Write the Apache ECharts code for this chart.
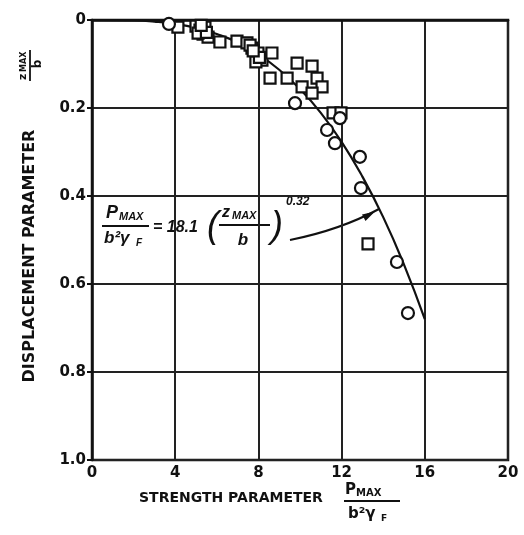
<!DOCTYPE html>
<html><head><meta charset="utf-8">
<script src="https://cdn.jsdelivr.net/npm/echarts@6/dist/echarts.min.js"></script>
<style>html,body{margin:0;padding:0;background:#fff}#c{width:524px;height:535px}</style>
</head><body><div id="c"></div>
<script>
// Strength parameter (x) vs displacement parameter (y, inverted)
const xTicks = [0, 4, 8, 12, 16, 20];
const yTicks = [0, 0.2, 0.4, 0.6, 0.8, 1.0];

// fitted curve P/(b^2 gamma) = 18.1 (z/b)^0.32
const curveX = [0, 2, 3, 4, 5, 6, 7, 8, 9, 10, 11, 12, 13, 14, 15, 16];
const curveY = [0, 0.001, 0.0036, 0.0089, 0.018, 0.032, 0.051, 0.078, 0.113, 0.157, 0.211, 0.277, 0.356, 0.448, 0.556, 0.680];

// circle observations
const circleX = [3.70, 9.76, 11.92, 11.30, 11.68, 12.88, 12.93, 14.66, 15.19];
const circleY = [0.009, 0.189, 0.223, 0.250, 0.280, 0.311, 0.382, 0.550, 0.666];

// square observations
const squareX = [4.13, 5.00, 5.19, 5.43, 5.34, 5.58, 5.10, 5.50, 5.25, 6.15, 6.97, 7.45, 7.69, 7.98, 8.17, 7.88, 7.60, 8.05, 7.75, 8.65, 8.56, 9.38, 9.86, 10.58, 10.10, 10.82, 11.06, 10.58, 11.59, 11.97, 13.27];
const squareY = [0.016, 0.014, 0.023, 0.016, 0.032, 0.039, 0.030, 0.028, 0.012, 0.050, 0.048, 0.052, 0.064, 0.075, 0.091, 0.095, 0.057, 0.085, 0.070, 0.075, 0.132, 0.132, 0.098, 0.105, 0.152, 0.132, 0.152, 0.166, 0.211, 0.211, 0.509];

const zip = (a, b) => a.map((v, i) => [v, b[i]]);
const F = '"DejaVu Sans", sans-serif';
const EF = '"Liberation Sans", sans-serif';
const ink = '#111';

const chart = echarts.init(document.getElementById('c'));
const it = (x, y, s, size, align) => ({type: 'text', x: x, y: y,
  style: {text: s, fill: ink, font: 'italic bold ' + size + 'px ' + EF, textAlign: align || 'left', textVerticalAlign: 'middle'}});
const bar = (x1, x2, y) => ({type: 'line', shape: {x1: x1, y1: y, x2: x2, y2: y}, style: {stroke: ink, lineWidth: 2}});

chart.setOption({
  animation: false,
  grid: {left: 92, right: 16, top: 20, bottom: 75, show: true, borderColor: ink, borderWidth: 2.5, backgroundColor: 'transparent'},
  xAxis: {
    type: 'value', min: 0, max: 20, interval: 4,
    axisLine: {show: true, lineStyle: {color: ink, width: 2.5}},
    axisTick: {show: false},
    axisLabel: {color: ink, fontSize: 15, fontWeight: 'bold', fontFamily: F, margin: 6,
      formatter: v => xTicks.includes(v) ? String(v) : ''},
    splitLine: {show: true, lineStyle: {color: '#222', width: 2}}
  },
  yAxis: {
    type: 'value', min: 0, max: 1, interval: 0.2, inverse: true,
    axisLine: {show: true, lineStyle: {color: ink, width: 2.5}},
    axisTick: {show: true, length: 5, lineStyle: {color: ink, width: 2}},
    axisLabel: {color: ink, fontSize: 15, fontWeight: 'bold', fontFamily: F, margin: 6,
      formatter: v => { const t = yTicks.find(k => Math.abs(k - v) < 1e-6); return t === undefined ? '' : (t === 0 ? '0' : t.toFixed(1)); }},
    splitLine: {show: true, lineStyle: {color: '#222', width: 2}}
  },
  series: [
    {type: 'line', data: zip(curveX, curveY), smooth: true, symbol: 'none', lineStyle: {color: ink, width: 2.2}, z: 2},
    {type: 'scatter', data: zip(squareX, squareY), symbol: 'rect', symbolSize: 11,
      itemStyle: {color: '#fff', borderColor: ink, borderWidth: 2.2, opacity: 1}, z: 3},
    {type: 'scatter', data: zip(circleX, circleY), symbol: 'circle', symbolSize: 12,
      itemStyle: {color: '#fff', borderColor: ink, borderWidth: 2.2, opacity: 1}, z: 4}
  ],
  graphic: [
    // x-axis title
    {type: 'text', x: 139, y: 498, style: {text: 'STRENGTH PARAMETER', fill: ink, font: 'bold 14px ' + F, textVerticalAlign: 'middle'}},
    {type: 'text', x: 345, y: 490, style: {text: 'P', fill: ink, font: 'bold 15px ' + F, textVerticalAlign: 'middle'}},
    {type: 'text', x: 356, y: 493, style: {text: 'MAX', fill: ink, font: 'bold 10px ' + F, textVerticalAlign: 'middle'}},
    bar(344, 400, 501),
    {type: 'text', x: 348, y: 514, style: {text: 'b²γ', fill: ink, font: 'bold 15px ' + F, textVerticalAlign: 'middle'}},
    {type: 'text', x: 381, y: 519, style: {text: 'F', fill: ink, font: 'bold 9px ' + F, textVerticalAlign: 'middle'}},
    // y-axis title
    {type: 'text', x: 30, y: 256, rotation: Math.PI / 2,
      style: {text: 'DISPLACEMENT PARAMETER', fill: ink, font: 'bold 16px ' + F, textAlign: 'center', textVerticalAlign: 'middle'}},
    {type: 'group', x: 31, y: 64, rotation: Math.PI / 2, children: [
      {type: 'text', x: -16, y: -8, style: {text: 'z', fill: ink, font: 'bold 11px ' + F, textVerticalAlign: 'middle'}},
      {type: 'text', x: -8, y: -7, style: {text: 'MAX', fill: ink, font: 'bold 8px ' + F, textVerticalAlign: 'middle'}},
      {type: 'line', shape: {x1: -17, y1: -1, x2: 14, y2: -1}, style: {stroke: ink, lineWidth: 1.8}},
      {type: 'text', x: 0, y: 7, style: {text: 'b', fill: ink, font: 'bold 12px ' + F, textAlign: 'center', textVerticalAlign: 'middle'}}
    ]},
    // equation annotation
    it(106, 213, 'P', 18),
    it(119, 217, 'MAX', 11),
    bar(102, 149, 226),
    it(104, 238, 'b²γ', 17),
    it(136, 243, 'F', 10),
    it(153, 228, '= 18.1', 16),
    {type: 'text', x: 207, y: 227, style: {text: '(', fill: ink, font: 'italic 36px ' + EF, textVerticalAlign: 'middle'}},
    it(222, 213, 'z', 16),
    it(232, 216, 'MAX', 11),
    bar(219, 270, 225),
    it(243, 240, 'b', 17, 'center'),
    {type: 'text', x: 271, y: 227, style: {text: ')', fill: ink, font: 'italic 36px ' + EF, textVerticalAlign: 'middle'}},
    it(286, 202, '0.32', 12),
    // arrow
    {type: 'bezierCurve', shape: {x1: 290, y1: 240, cpx1: 340, cpy1: 230, x2: 379, y2: 209}, style: {stroke: ink, lineWidth: 2, fill: null}},
    {type: 'polygon', shape: {points: [[375, 211.5], [362, 214.5], [365.5, 221]]}, style: {fill: ink}}
  ]
});
</script></body></html>
